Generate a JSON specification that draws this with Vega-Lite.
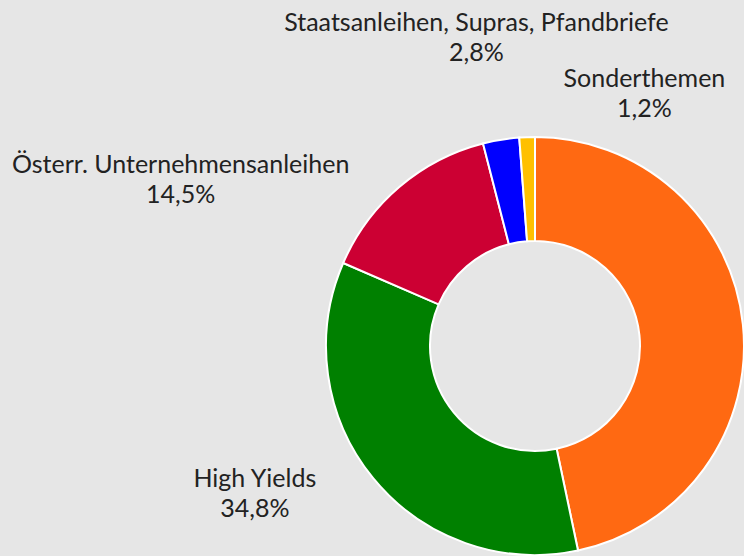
{
  "$schema": "https://vega.github.io/schema/vega-lite/v6.json",
  "width": 1070,
  "height": 692,
  "autosize": {"type": "none"},
  "padding": {"left": 0, "top": 0, "right": -326, "bottom": -136},
  "background": "#e6e6e6",
  "config": {"view": {"stroke": null}, "text": {"font": "Lato"}},
  "data": {
    "values": [
      {"i": 1, "name": "Weitere Anleihen", "value": 46.7, "label": "Weitere Anleihen\n46,7%"},
      {"i": 2, "name": "High Yields", "value": 34.8, "label": "High Yields\n34,8%"},
      {"i": 3, "name": "Österr. Unternehmensanleihen", "value": 14.5, "label": "Österr. Unternehmensanleihen\n14,5%"},
      {"i": 4, "name": "Staatsanleihen, Supras, Pfandbriefe", "value": 2.8, "label": "Staatsanleihen, Supras, Pfandbriefe\n2,8%"},
      {"i": 5, "name": "Sonderthemen", "value": 1.2, "label": "Sonderthemen\n1,2%"}
    ]
  },
  "transform": [
    {"stack": "value", "groupby": [], "sort": [{"field": "i", "order": "ascending"}], "as": ["v0", "v1"]}
  ],
  "layer": [
    {
      "mark": {"type": "arc", "innerRadius": 105, "outerRadius": 209, "stroke": "#ffffff", "strokeWidth": 2},
      "encoding": {
        "theta": {"field": "v0", "type": "quantitative", "scale": {"domain": [0, 100]}},
        "theta2": {"field": "v1"},
        "color": {
          "field": "name",
          "type": "nominal",
          "scale": {
            "domain": ["Weitere Anleihen", "High Yields", "Österr. Unternehmensanleihen", "Staatsanleihen, Supras, Pfandbriefe", "Sonderthemen"],
            "range": ["#ff6912", "#008000", "#cc0033", "#0000ff", "#ffc000"]
          },
          "legend": null
        }
      }
    },
    {
      "transform": [{"filter": "datum.name === 'High Yields'"}],
      "mark": {"type": "text", "radius": 145, "dx": -310, "dy": -1, "align": "center", "baseline": "alphabetic", "lineBreak": "\n", "lineHeight": 30, "fontSize": 25, "color": "#222222"},
      "encoding": {"theta": {"field": "v0", "type": "quantitative"}, "text": {"field": "label"}}
    },
    {
      "transform": [{"filter": "datum.name === 'Österr. Unternehmensanleihen'"}],
      "mark": {"type": "text", "radius": 385, "dx": -1, "dy": -20, "align": "center", "baseline": "alphabetic", "lineBreak": "\n", "lineHeight": 30, "fontSize": 25, "color": "#222222"},
      "encoding": {"theta": {"field": "v0", "type": "quantitative"}, "text": {"field": "label"}}
    },
    {
      "transform": [{"filter": "datum.name === 'Staatsanleihen, Supras, Pfandbriefe'"}],
      "mark": {"type": "text", "radius": 320, "dx": 21, "dy": -5, "align": "center", "baseline": "alphabetic", "lineBreak": "\n", "lineHeight": 30, "fontSize": 25, "color": "#222222"},
      "encoding": {"theta": {"field": "v0", "type": "quantitative"}, "text": {"field": "label"}}
    },
    {
      "transform": [{"filter": "datum.name === 'Sonderthemen'"}],
      "mark": {"type": "text", "radius": 260, "dx": 129, "dy": 0, "align": "center", "baseline": "alphabetic", "lineBreak": "\n", "lineHeight": 30, "fontSize": 25, "color": "#222222"},
      "encoding": {"theta": {"field": "v0", "type": "quantitative"}, "text": {"field": "label"}}
    }
  ]
}
